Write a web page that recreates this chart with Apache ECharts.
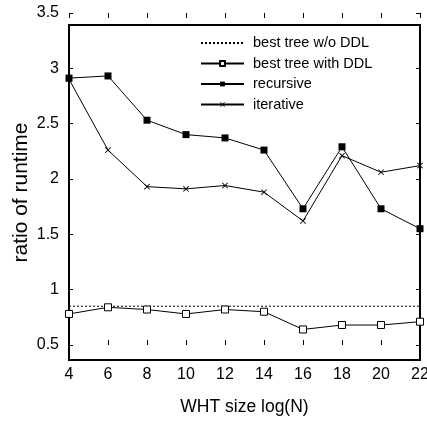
<!DOCTYPE html>
<html>
<head>
<meta charset="utf-8">
<script src="https://cdn.jsdelivr.net/npm/echarts@6/dist/echarts.min.js"></script>
<style>
html,body{margin:0;padding:0;background:#fff;}
#chart{width:427px;height:424px;}
</style>
</head>
<body>
<div id="chart"></div>
<script>
// Data
const sizes = [4, 6, 8, 10, 12, 14, 16, 18, 20, 22];
const bestNoDDL = [0.85, 0.85, 0.85, 0.85, 0.85, 0.85, 0.85, 0.85, 0.85, 0.85];
const bestDDL = [0.78, 0.84, 0.82, 0.78, 0.82, 0.80, 0.64, 0.68, 0.68, 0.71];
const recursive = [2.91, 2.93, 2.53, 2.40, 2.37, 2.26, 1.73, 2.29, 1.73, 1.55];
const iterative = [2.90, 2.26, 1.93, 1.91, 1.94, 1.88, 1.62, 2.21, 2.06, 2.12];
const seriesNames = ['best tree w/o DDL', 'best tree with DDL', 'recursive', 'iterative'];

const FONT = "'Liberation Sans', Arial, sans-serif";
const pairs = arr => sizes.map((x, i) => [x, arr[i]]);
const crossPath = 'path://M0,1L1,0L5,4L9,0L10,1L6,5L10,9L9,10L5,6L1,10L0,9L4,5Z';

const chart = echarts.init(document.getElementById('chart'), null, {renderer: 'canvas'});
const tickCommon = {
  type: 'value', min: 4, max: 22, interval: 2, gridIndex: 1,
  axisLine: {show: false}, splitLine: {show: false}, axisLabel: {show: false},
  axisTick: {show: true, inside: true, length: 5, lineStyle: {color: '#000', width: 1}}
};
const yTickCommon = {
  type: 'value', min: 0.5, max: 3.5, interval: 0.5, gridIndex: 1,
  axisLine: {show: false}, splitLine: {show: false},
  axisTick: {show: true, inside: true, length: 4, lineStyle: {color: '#000', width: 1}}
};

chart.setOption({
  animation: false,
  backgroundColor: '#fff',
  textStyle: {fontFamily: FONT, color: '#000'},
  grid: [
    {left: 69, right: 7, top: 25, bottom: 64, show: true, borderColor: '#000', borderWidth: 2,
     backgroundColor: 'transparent', containLabel: false, outerBoundsMode: 'none'},
    {left: 69, right: 7, top: 13, bottom: 79, show: false, containLabel: false, outerBoundsMode: 'none'}
  ],
  legend: {
    orient: 'vertical', left: 200, top: 35, padding: 0,
    itemWidth: 43, itemHeight: 6, itemGap: 4.5,
    textStyle: {fontFamily: FONT, fontSize: 14.5, color: '#000', lineHeight: 16, padding: [0, 0, 0, 4]},
    data: [
      {name: seriesNames[0], itemStyle: {opacity: 0}},
      seriesNames[1], seriesNames[2], seriesNames[3]
    ]
  },
  xAxis: [
    {type: 'value', gridIndex: 0, min: 4, max: 22, interval: 2,
     axisLine: {show: false}, axisTick: {show: false}, splitLine: {show: false},
     axisLabel: {color: '#000', fontFamily: FONT, fontSize: 16, margin: 7},
     name: 'WHT size log(N)', nameLocation: 'middle', nameGap: 38,
     nameTextStyle: {color: '#000', fontFamily: FONT, fontSize: 17.5}},
    Object.assign({position: 'bottom'}, tickCommon),
    Object.assign({position: 'top'}, tickCommon)
  ],
  yAxis: [
    {type: 'value', gridIndex: 0, min: 0.364, max: 3.39,
     axisLine: {show: false}, axisTick: {show: false}, splitLine: {show: false}, axisLabel: {show: false},
     name: 'ratio of runtime', nameLocation: 'middle', nameGap: 37, nameRotate: 90,
     nameTextStyle: {color: '#000', fontFamily: FONT, fontSize: 21}},
    Object.assign({position: 'left', axisLabel: {color: '#000', fontFamily: FONT, fontSize: 16, margin: 10}}, yTickCommon),
    Object.assign({position: 'right', axisLabel: {show: false}}, yTickCommon)
  ],
  series: [
    {name: seriesNames[0], type: 'line', xAxisIndex: 0, yAxisIndex: 0, data: pairs(bestNoDDL),
     symbol: 'none', lineStyle: {color: '#000', width: 1, type: [2, 2]}, itemStyle: {color: '#000'}},
    {name: seriesNames[1], type: 'line', xAxisIndex: 0, yAxisIndex: 0, data: pairs(bestDDL),
     symbol: 'rect', symbolSize: 7, lineStyle: {color: '#000', width: 1},
     itemStyle: {color: '#fff', borderColor: '#000', borderWidth: 1}},
    {name: seriesNames[2], type: 'line', xAxisIndex: 0, yAxisIndex: 0, data: pairs(recursive),
     symbol: 'rect', symbolSize: 7, lineStyle: {color: '#000', width: 1},
     itemStyle: {color: '#000'}},
    {name: seriesNames[3], type: 'line', xAxisIndex: 0, yAxisIndex: 0, data: pairs(iterative),
     symbol: crossPath, symbolSize: 6, lineStyle: {color: '#000', width: 1},
     itemStyle: {color: '#000'}}
  ]
});
</script>
</body>
</html>
